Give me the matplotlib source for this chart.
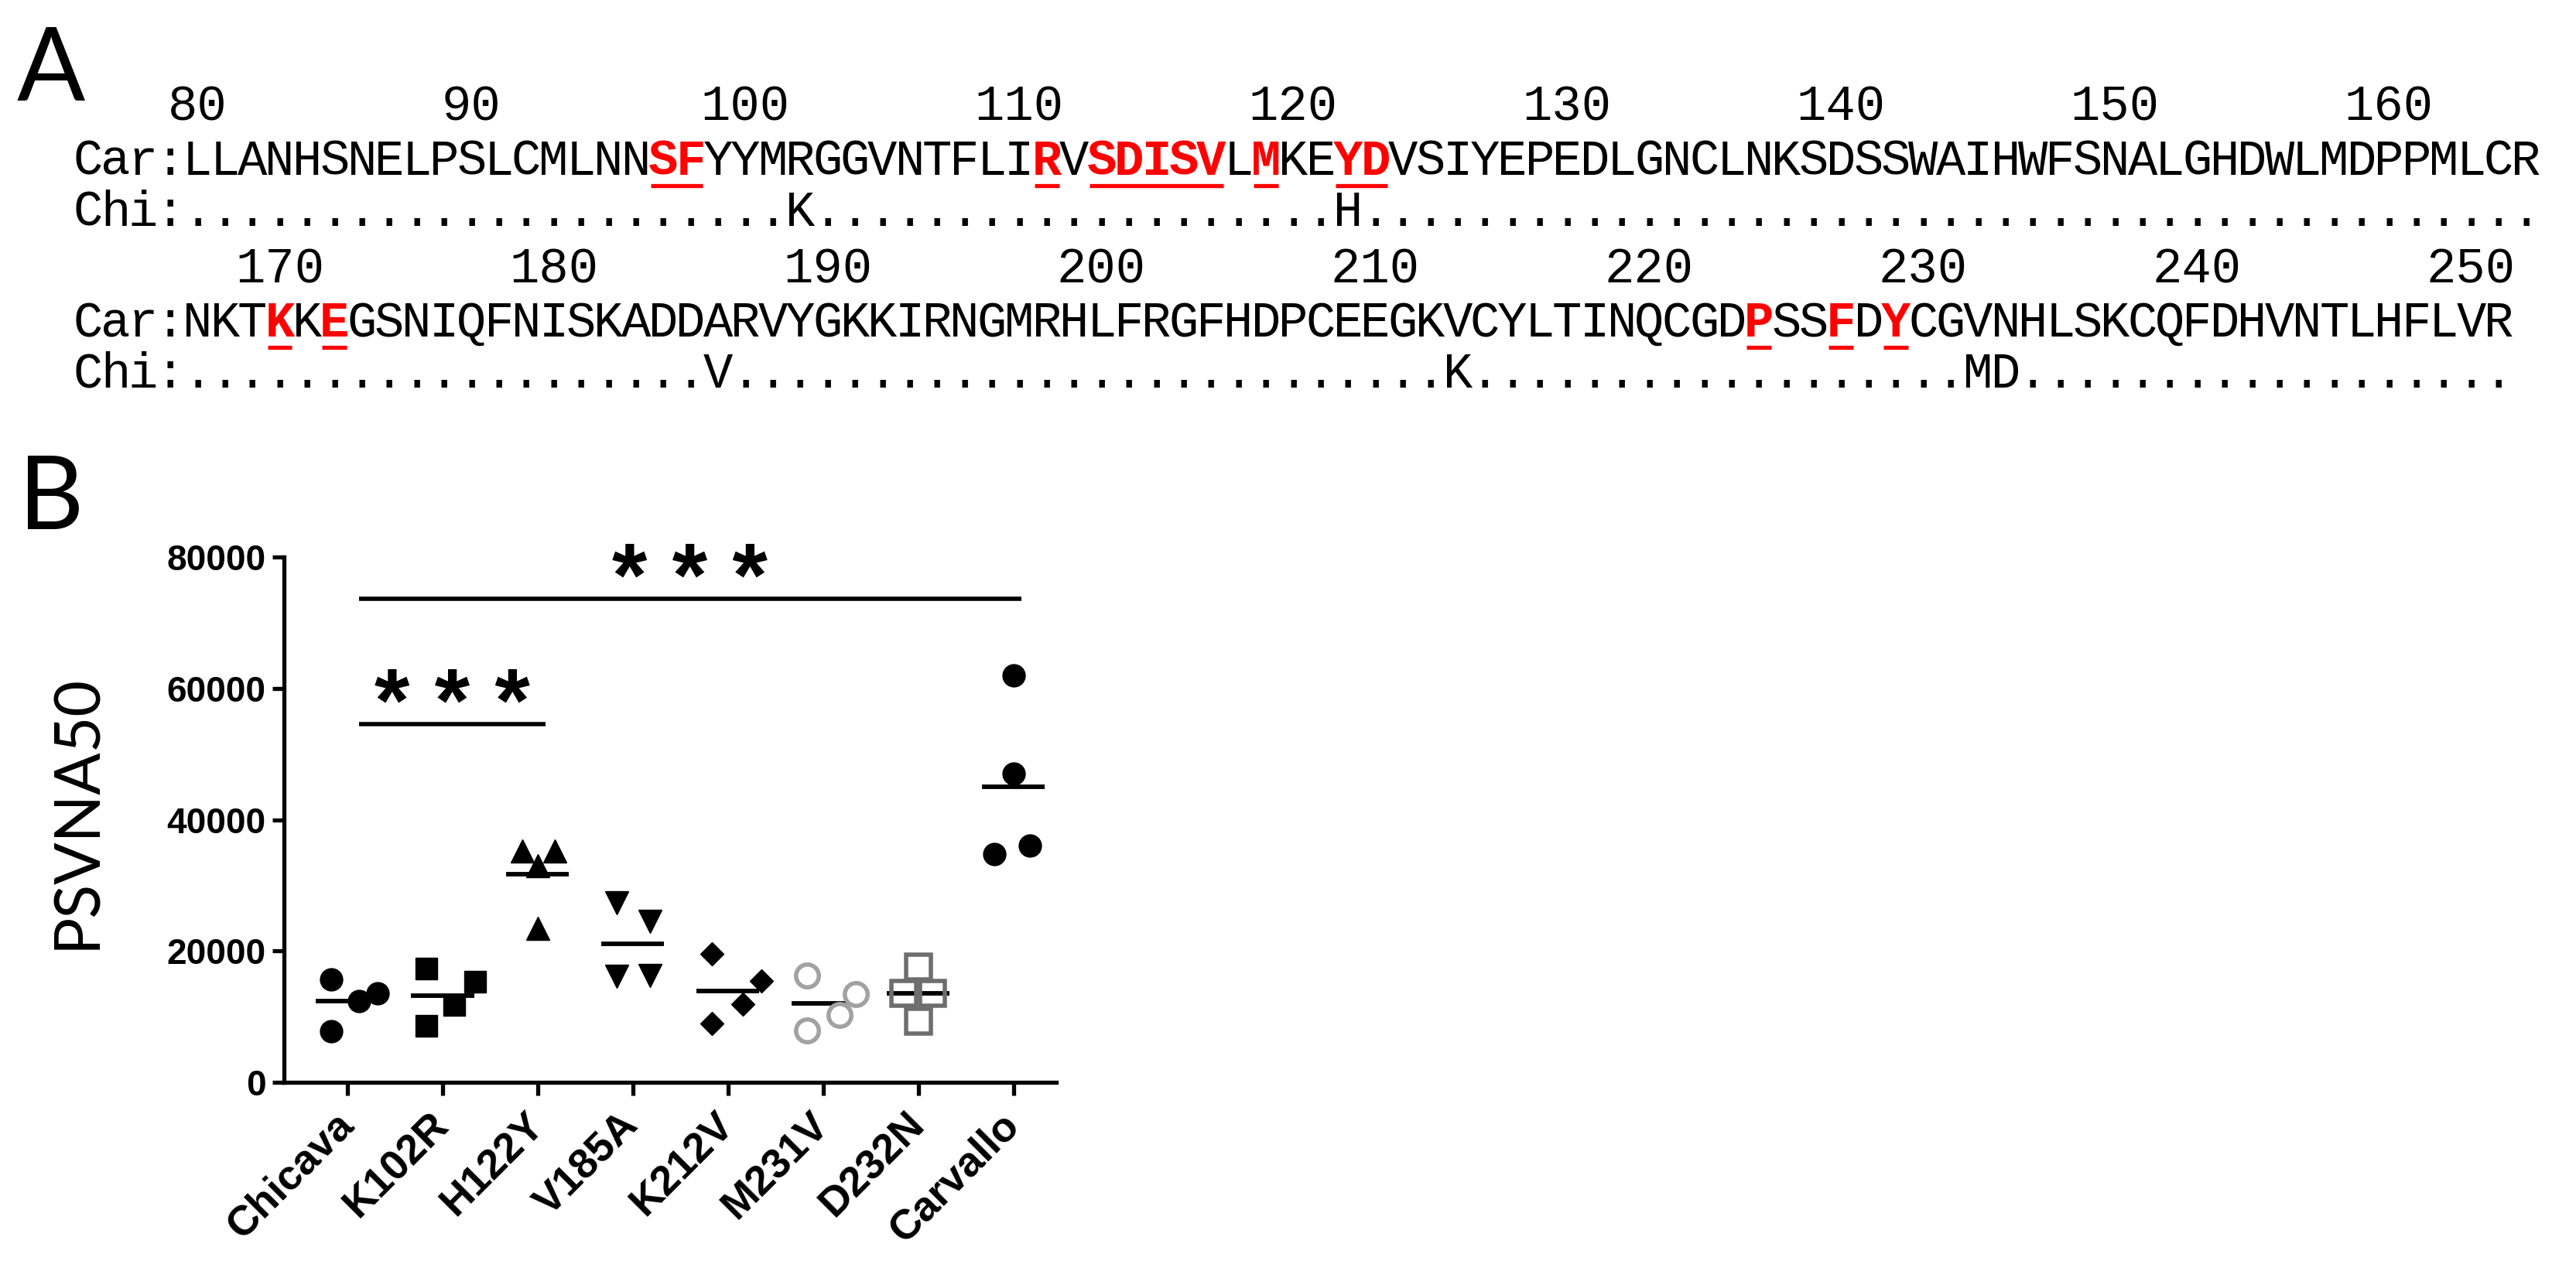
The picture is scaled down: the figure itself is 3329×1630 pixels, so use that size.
import numpy as np
import matplotlib
matplotlib.use("Agg")
import matplotlib.pyplot as plt

# ---------------------------------------------------------------------------
# Data
# ---------------------------------------------------------------------------
# Panel A: Carvallo sequence (two alignment blocks), differences in Chicava
car_rows = [
    "LLANHSNELPSLCMLNNSFYYMRGGVNTFLIRVSDISVLMKEYDVSIYEPEDLGNCLNKSDSSWAIHWFSNALGHDWLMDPPMLCR",
    "NKTKKEGSNIQFNISKADDARVYGKKIRNGMRHLFRGFHDPCEEGKVCYLTINQCGDPSSFDYCGVNHLSKCQFDHVNTLHFLVR",
]
row_starts = [80, 166]
row_numbers = [list(range(80, 161, 10)), list(range(170, 251, 10))]
highlighted = [97, 98, 111, 113, 114, 115, 116, 117, 119, 122, 123,
               169, 171, 223, 226, 228]
chi_residues = [102, 122, 185, 212, 231, 232]
chi_letters = ["K", "H", "V", "K", "M", "D"]

# Panel B: PSVNA50 per virus (4 animals each)
groups = ["Chicava", "K102R", "H122Y", "V185A", "K212V", "M231V", "D232N", "Carvallo"]
chicava = [15700, 7800, 12400, 13600]
k102r = [17300, 8600, 11800, 15300]
h122y = [35200, 35200, 33000, 23400]
v185a = [27300, 24500, 16200, 16300]
k212v = [19500, 15400, 11900, 8900]
m231v = [16300, 7900, 10300, 13400]
d232n = [17500, 13600, 13600, 9300]
carvallo = [62000, 47000, 34800, 36000]
values = [chicava, k102r, h122y, v185a, k212v, m231v, d232n, carvallo]

y_ticks = [0, 20000, 40000, 60000, 80000]
sig_pairs = [(0, 7), (0, 2)]
sig_heights = [73600, 54500]
sig_labels = ["* * *", "* * *"]

# ---------------------------------------------------------------------------
# Layout / style
# ---------------------------------------------------------------------------
W, H, DPI = 3329, 1630, 200
MONO = "Liberation Mono"
BOLD_SANS = "Liberation Sans"
PANEL_FONT = "Lato"

CHAR_W = 35.4        # px per monospace column
X0 = 96              # left edge of "Car:" in px
row_base = [(155, 226, 292), (365, 435, 501)]   # baselines: numbers, Car, Chi
label_shift = [0, -1]                           # numbering offset per block
SEQ_FS = 23

# scatter layout: horizontal spread of the 4 animals inside a group
jitter = [
    [-0.17, -0.17, 0.12, 0.32],
    [-0.17, -0.17, 0.12, 0.34],
    [-0.16, 0.18, 0.0, 0.0],
    [-0.17, 0.18, -0.17, 0.18],
    [-0.17, 0.35, 0.16, -0.17],
    [-0.17, -0.17, 0.17, 0.34],
    [0.0, -0.15, 0.15, 0.0],
    [0.0, 0.0, -0.2, 0.17],
]
markers = ["o", "s", "^", "v", "D", "o", "s", "o"]
msizes = [10.4, 10.2, 10.8, 10.8, 7.6, 10.6, 11.2, 10.4]
faces = ["black", "black", "black", "black", "black", "white", "none", "black"]
edges = ["black", "black", "black", "black", "black", "#a2a2a2", "#6e6e6e", "black"]
edge_w = [0.5, 0.5, 0.5, 0.5, 0.5, 2.0, 2.0, 0.5]


def col_center(idx):
    # idx counts from the first residue; "Car:" occupies columns -4..-1
    return X0 + (idx + 4 + 0.5) * CHAR_W


fig = plt.figure(figsize=(W / DPI, H / DPI), dpi=DPI)
fig.patch.set_facecolor("white")

# ---------------------------------------------------------------------------
# Panel A: alignment text, drawn in pixel coordinates
# ---------------------------------------------------------------------------
ax_a = fig.add_axes([0, 0, 1, 1])
ax_a.set_xlim(0, W)
ax_a.set_ylim(H, 0)
ax_a.axis("off")

ax_a.text(66, 130, "A", fontsize=47, family=PANEL_FONT, ha="center", va="baseline")

chi_map = dict(zip(chi_residues, chi_letters))
for seq, start, nums, (yn, yc, yh), shift in zip(car_rows, row_starts, row_numbers,
                                                 row_base, label_shift):
    for n in nums:
        ax_a.text(col_center(n - start + shift), yn, str(n), fontsize=SEQ_FS,
                  family=MONO, ha="center", va="baseline")
    for k, lab in enumerate("Car:"):
        ax_a.text(col_center(k - 4), yc, lab, fontsize=SEQ_FS, family=MONO,
                  ha="center", va="baseline")
    for k, lab in enumerate("Chi:"):
        ax_a.text(col_center(k - 4), yh, lab, fontsize=SEQ_FS, family=MONO,
                  ha="center", va="baseline")
    run = []
    for i, aa in enumerate(seq):
        res = start + i
        red = res in highlighted
        ax_a.text(col_center(i), yc, aa, fontsize=SEQ_FS, family=MONO,
                  color="#ff0000" if red else "black",
                  weight="bold" if red else "normal", ha="center", va="baseline")
        ax_a.text(col_center(i), yh, chi_map.get(res, "."), fontsize=SEQ_FS,
                  family=MONO, ha="center", va="baseline")
        if red:
            run.append(i)
        if run and (not red or i == len(seq) - 1):
            x_l = col_center(run[0]) - CHAR_W * 0.45
            x_r = col_center(run[-1]) + CHAR_W * 0.45
            ax_a.plot([x_l, x_r], [yc + 14, yc + 14], color="#ff0000", lw=1.9,
                      solid_capstyle="butt")
            run = []

ax_a.text(66, 684, "B", fontsize=47, family=PANEL_FONT, ha="center", va="baseline")

# ---------------------------------------------------------------------------
# Panel B: scatter with mean lines
# ---------------------------------------------------------------------------
ax = fig.add_axes([367 / W, 1 - 1399 / H, 998 / W, 679 / H])
ax.set_xlim(-0.667, 7.45)
ax.set_ylim(0, 80000)

for i, vals in enumerate(values):
    m = np.mean(vals)
    ax.plot([i - 0.33, i + 0.33], [m, m], color="black", lw=2.1,
            solid_capstyle="butt", zorder=2)
    xs = i + np.array(jitter[i])
    ax.plot(xs, vals, linestyle="none", marker=markers[i], ms=msizes[i],
            mfc=faces[i], mec=edges[i], mew=edge_w[i], zorder=3, clip_on=False)

for (a, b), h, lab in zip(sig_pairs, sig_heights, sig_labels):
    x_l, x_r = a + 0.12, b + 0.08
    ax.plot([x_l, x_r], [h, h], color="black", lw=2.0, clip_on=False,
            solid_capstyle="butt")
    ax.annotate(lab, xy=((x_l + x_r) / 2, h), xytext=(0, -3.5),
                textcoords="offset points", ha="center", va="baseline",
                fontsize=42, weight="bold", family=BOLD_SANS, annotation_clip=False)

for side in ("top", "right"):
    ax.spines[side].set_visible(False)
for side in ("left", "bottom"):
    ax.spines[side].set_linewidth(1.9)

ax.set_yticks(y_ticks)
ax.set_yticklabels([str(t) for t in y_ticks], fontsize=16.5, weight="bold",
                   family=BOLD_SANS)
ax.set_xticks(range(len(groups)))
ax.set_xticklabels(groups, fontsize=19.5, weight="bold", family=BOLD_SANS,
                   rotation=45, ha="right", va="center", rotation_mode="anchor")
ax.tick_params(axis="y", length=5.4, width=1.9, pad=3)
ax.tick_params(axis="x", length=6.0, width=1.9, pad=11)
ax.patch.set_alpha(0)

fig.text(100 / W, 1 - 1049 / H, "PSVNA50", rotation=90, fontsize=29,
         family=PANEL_FONT, ha="center", va="center")

fig.savefig("out.png", dpi=DPI, facecolor="white")
